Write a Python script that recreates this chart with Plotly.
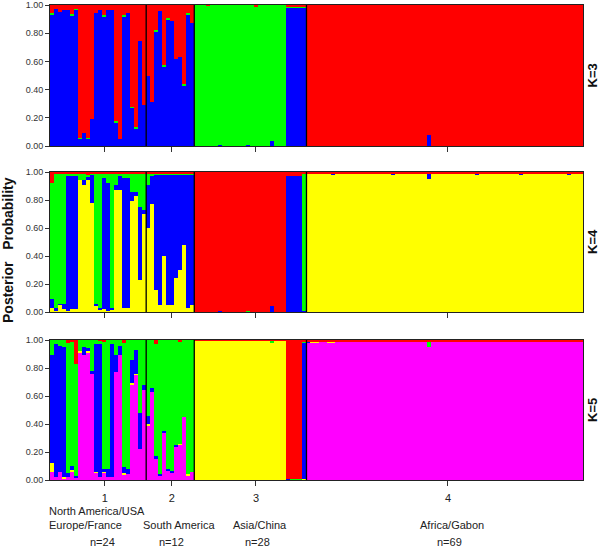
import plotly.graph_objects as go

# ---------------- data ----------------
populations = ["1", "2", "3", "4"]
pop_sizes = [24, 12, 28, 69]
regions = ["Europe/France", "South America", "Asia/China", "Africa/Gabon"]
region_top = "North America/USA"
n_labels = ["n=24", "n=12", "n=28", "n=69"]
pop_tick_pos = [13.2, 29.9, 50.9, 98.8]
boundaries = [23.5, 35.5, 63.5]
individuals = list(range(133))

# K=3  (stack bottom -> top: blue, green, red)
k3_blue = [
    .93, .97, .95, .965, .965, .925, .965, .05, .09, .05, .19, .94, .965, .92, .965, .965, .17, .05, .92, .94, .27, .125, .745, .29,
    .50, .31, .81, .955, .565, .895, .89, .62, .63, .43, .93, .875,
    0, 0, 0, 0, 0, 0, .005, 0, 0, 0, 0, 0, 0, .005, 0, 0, 0, 0, 0, .035, 0, 0, 0, .98, .98, .98, .98, .98,
    0, 0, 0, 0, 0, 0, 0, 0, 0, 0, 0, 0, 0, 0, 0, 0, 0, 0, 0, 0, 0, 0, 0,
    0, 0, 0, 0, 0, 0, 0, .075, 0, 0, 0, 0, 0, 0, 0, 0, 0, 0, 0, 0, 0, 0, 0,
    0, 0, 0, 0, 0, 0, 0, 0, 0, 0, 0, 0, 0, 0, 0, 0, 0, 0, 0, 0, 0, 0, 0,
]
k3_green = [
    .01, 0, 0, 0, 0, .01, .01, .01, 0, .01, 0, 0, 0, .01, 0, 0, .01, 0, .01, 0, .01, .01, 0, 0,
    0, 0, .01, 0, .01, .01, 0, 0, 0, .01, .01, 0,
    1, 1, 1, .995, 1, 1, .995, 1, 1, 1, 1, 1, 1, .995, 1, .99, 1, 1, 1, .965, 1, 1, 1, .01, .01, .01, .01, .01,
    0, 0, 0, 0, 0, 0, 0, 0, 0, 0, 0, 0, 0, 0, 0, 0, 0, 0, 0, 0, 0, 0, 0,
    0, 0, 0, 0, 0, 0, 0, 0, 0, 0, 0, 0, 0, 0, 0, 0, 0, 0, 0, 0, 0, 0, 0,
    0, 0, 0, 0, 0, 0, 0, 0, 0, 0, 0, 0, 0, 0, 0, 0, 0, 0, 0, 0, 0, 0, 0,
]
k3_red = [
    .06, .03, .05, .035, .035, .065, .025, .94, .91, .94, .81, .06, .035, .07, .035, .035, .82, .95, .07, .06, .72, .865, .255, .71,
    .50, .69, .18, .045, .425, .095, .11, .38, .37, .56, .06, .125,
    0, 0, 0, .005, 0, 0, 0, 0, 0, 0, 0, 0, 0, 0, 0, .01, 0, 0, 0, 0, 0, 0, 0, .01, .01, .01, .01, .01,
    1, 1, 1, 1, 1, 1, 1, 1, 1, 1, 1, 1, 1, 1, 1, 1, 1, 1, 1, 1, 1, 1, 1,
    1, 1, 1, 1, 1, 1, 1, .925, 1, 1, 1, 1, 1, 1, 1, 1, 1, 1, 1, 1, 1, 1, 1,
    1, 1, 1, 1, 1, 1, 1, 1, 1, 1, 1, 1, 1, 1, 1, 1, 1, 1, 1, 1, 1, 1, 1,
]

# K=4  (stack bottom -> top: yellow, blue, green, red)
k4_yellow = [
    .03, .01, .05, .02, .01, .02, .02, .94, .91, .94, .78, .04, .02, .02, .01, .02, .87, .87, .03, .03, .79, .83, .23, .70,
    .60, .77, .16, .05, .40, .05, .05, .245, .30, .48, .03, .05,
    0, 0, 0, 0, 0, 0, 0, 0, 0, 0, 0, 0, 0, 0, 0, 0, 0, 0, 0, 0, 0, 0, 0, 0, 0, 0, 0, 0,
    .99, .99, .99, .99, .99, .99, .98, .99, .99, .99, .99, .99, .99, .99, .99, .99, .99, .99, .99, .99, .99, .98, .99,
    .99, .99, .99, .99, .99, .99, .99, .95, .99, .99, .99, .99, .99, .99, .99, .99, .99, .99, .99, .98, .99, .99, .99,
    .99, .99, .99, .99, .99, .99, .99, .98, .99, .99, .99, .99, .99, .99, .99, .99, .99, .99, .99, .98, .99, .99, .99,
]
k4_blue = [
    .06, .02, .01, .04, .96, .95, .95, 0, .03, .03, .20, .02, .01, .94, .91, .01, .04, .10, .93, .93, .07, .03, .52, .03,
    .31, .20, .82, .93, .58, .93, .93, .735, .68, .50, .955, .935,
    0, 0, 0, 0, 0, 0, .005, 0, 0, 0, 0, 0, 0, 0, 0, 0, 0, 0, 0, .04, 0, 0, 0, .975, .975, .975, .975, .01,
    0, 0, 0, 0, 0, 0, .01, 0, 0, 0, 0, 0, 0, 0, 0, 0, 0, 0, 0, 0, 0, .01, 0,
    0, 0, 0, 0, 0, 0, 0, .04, 0, 0, 0, 0, 0, 0, 0, 0, 0, 0, 0, .01, 0, 0, 0,
    0, 0, 0, 0, 0, 0, 0, .01, 0, 0, 0, 0, 0, 0, 0, 0, 0, 0, 0, .01, 0, 0, 0,
]
k4_green = [
    .83, .96, .93, .93, .02, .02, .02, .05, .05, .01, .01, .93, .96, .03, .07, .96, .08, .02, .03, .03, .13, .13, .24, .26,
    .08, .02, .01, .01, .01, .01, .01, .01, .01, .01, .005, .005,
    0, 0, 0, 0, 0, 0, 0, 0, 0, 0, 0, 0, 0, .005, 0, 0, 0, 0, 0, 0, 0, 0, 0, 0, 0, 0, 0, .98,
    0, 0, 0, 0, 0, 0, 0, 0, 0, 0, 0, 0, 0, 0, 0, 0, 0, 0, 0, 0, 0, 0, 0,
    0, 0, 0, 0, 0, 0, 0, 0, 0, 0, 0, 0, 0, 0, 0, 0, 0, 0, 0, 0, 0, 0, 0,
    0, 0, 0, 0, 0, 0, 0, 0, 0, 0, 0, 0, 0, 0, 0, 0, 0, 0, 0, 0, 0, 0, 0,
]
k4_red = [
    .08, .01, .01, .01, .01, .01, .01, .01, .01, .02, .01, .01, .01, .01, .01, .01, .01, .01, .01, .01, .01, .01, .01, .01,
    .01, .01, .01, .01, .01, .01, .01, .01, .01, .01, .01, .01,
    1, 1, 1, 1, 1, 1, .995, 1, 1, 1, 1, 1, 1, .995, 1, 1, 1, 1, 1, .96, 1, 1, 1, .025, .025, .025, .025, .01,
    .01, .01, .01, .01, .01, .01, .01, .01, .01, .01, .01, .01, .01, .01, .01, .01, .01, .01, .01, .01, .01, .01, .01,
    .01, .01, .01, .01, .01, .01, .01, .01, .01, .01, .01, .01, .01, .01, .01, .01, .01, .01, .01, .01, .01, .01, .01,
    .01, .01, .01, .01, .01, .01, .01, .01, .01, .01, .01, .01, .01, .01, .01, .01, .01, .01, .01, .01, .01, .01, .01,
]

# K=5  (stack bottom -> top: magenta, yellow, blue, green, red)
k5_magenta = [
    .06, .02, .06, .01, .02, .06, .02, .91, .89, .91, .76, .05, .02, .05, .02, .02, .77, .89, .04, .04, .68, .75, .22, .64,
    .39, .63, .15, .03, .34, .065, .055, .24, .25, .45, .03, .06,
    0, 0, 0, 0, 0, 0, 0, 0, 0, 0, 0, 0, 0, 0, 0, 0, 0, 0, 0, 0, 0, 0, 0, 0, 0, 0, 0, 0,
    .985, .98, .98, .99, .99, .98, .98, .99, .99, .99, .99, .99, .99, .99, .99, .99, .99, .99, .99, .99, .99, .99, .99,
    .99, .99, .99, .99, .99, .99, .99, .95, .99, .99, .99, .99, .99, .99, .99, .99, .99, .99, .99, .99, .99, .99, .99,
    .99, .99, .99, .99, .99, .99, .99, .99, .99, .99, .99, .99, .99, .99, .99, .99, .99, .99, .99, .99, .99, .99, .99,
]
k5_yellow = [
    .06, 0, 0, .01, 0, .01, 0, .01, 0, .01, 0, .01, 0, .01, 0, 0, 0, 0, .01, 0, .01, .01, 0, 0,
    .01, 0, 0, 0, 0, 0, 0, 0, .01, 0, .01, 0,
    .995, .995, .995, .995, .995, .995, .995, .995, .995, .995, .995, .995, .995, .995, .995, .995, .995, .995, .995, .98, .995, .995, .995, 0, 0, 0, 0, .01,
    0, .01, .01, 0, 0, .01, .01, 0, 0, 0, 0, 0, 0, 0, 0, 0, 0, 0, 0, 0, 0, 0, 0,
    0, 0, 0, 0, 0, 0, 0, 0, 0, 0, 0, 0, 0, 0, 0, 0, 0, 0, 0, 0, 0, 0, 0,
    0, 0, 0, 0, 0, 0, 0, 0, 0, 0, 0, 0, 0, 0, 0, 0, 0, 0, 0, 0, 0, 0, 0,
]
k5_blue = [
    .77, .95, .90, .93, .03, .03, .01, 0, .06, .02, .02, .91, .955, .02, .06, .955, .12, .07, .04, .04, .17, .17, .26, .04,
    .06, .03, .02, .01, .01, .015, .01, .01, 0, 0, 0, 0,
    0, 0, 0, 0, 0, 0, 0, 0, 0, 0, 0, 0, 0, 0, 0, 0, 0, 0, 0, 0, 0, 0, 0, .01, 0, 0, 0, .97,
    .005, 0, 0, 0, 0, 0, 0, 0, 0, 0, 0, 0, 0, 0, 0, 0, 0, 0, 0, 0, 0, 0, 0,
    0, 0, 0, 0, 0, 0, 0, 0, 0, 0, 0, 0, 0, 0, 0, 0, 0, 0, 0, 0, 0, 0, 0,
    0, 0, 0, 0, 0, 0, 0, 0, 0, 0, 0, 0, 0, 0, 0, 0, 0, 0, 0, 0, 0, 0, 0,
]
k5_green = [
    .11, .03, .04, .05, .93, .89, .80, .08, .05, .06, .22, .03, .02, .91, .92, .025, .11, .04, .89, .92, .14, .07, .52, .32,
    .54, .34, .80, .96, .65, .92, .935, .75, .73, .55, .96, .94,
    0, 0, 0, 0, 0, 0, 0, 0, 0, 0, 0, 0, 0, 0, 0, 0, 0, 0, 0, .015, 0, 0, 0, 0, .01, .01, .01, .01,
    0, 0, 0, 0, 0, 0, 0, 0, 0, 0, 0, 0, 0, 0, 0, 0, 0, 0, 0, 0, 0, 0, 0,
    0, 0, 0, 0, 0, 0, 0, .04, 0, 0, 0, 0, 0, 0, 0, 0, 0, 0, 0, 0, 0, 0, 0,
    0, 0, 0, 0, 0, 0, 0, 0, 0, 0, 0, 0, 0, 0, 0, 0, 0, 0, 0, 0, 0, 0, 0,
]
k5_red = [
    0, 0, 0, 0, .02, .01, .17, 0, 0, 0, 0, 0, .005, .01, 0, 0, 0, 0, .02, 0, 0, 0, 0, 0,
    0, 0, .03, 0, 0, 0, 0, 0, .01, 0, 0, 0,
    .005, .005, .005, .005, .005, .005, .005, .005, .005, .005, .005, .005, .005, .005, .005, .005, .005, .005, .005, .005, .005, .005, .005, .99, .99, .99, .99, .01,
    .01, .01, .01, .01, .01, .01, .01, .01, .01, .01, .01, .01, .01, .01, .01, .01, .01, .01, .01, .01, .01, .01, .01,
    .01, .01, .01, .01, .01, .01, .01, .01, .01, .01, .01, .01, .01, .01, .01, .01, .01, .01, .01, .01, .01, .01, .01,
    .01, .01, .01, .01, .01, .01, .01, .01, .01, .01, .01, .01, .01, .01, .01, .01, .01, .01, .01, .01, .01, .01, .01,
]

panel_labels = ["K=3", "K=4", "K=5"]
ytick_vals = [0, 0.2, 0.4, 0.6, 0.8, 1.0]
ytick_text = ["0.00", "0.20", "0.40", "0.60", "0.80", "1.00"]

# ---------------- styles ----------------
RED, GREEN, BLUE, YELLOW, MAGENTA = "#FF0000", "#00FF00", "#0000FF", "#FFFF00", "#FF00FF"
panels = [
    [(k3_blue, BLUE), (k3_green, GREEN), (k3_red, RED)],
    [(k4_yellow, YELLOW), (k4_blue, BLUE), (k4_green, GREEN), (k4_red, RED)],
    [(k5_magenta, MAGENTA), (k5_yellow, YELLOW), (k5_blue, BLUE), (k5_green, GREEN), (k5_red, RED)],
]

W, H = 600, 548
ML, MR, MT, MB = 50, 17, 5, 68
plot_h = H - MT - MB
plot_w = W - ML - MR
def py(p):  # pixel y -> paper
    return (H - MB - p) / plot_h
def px(p):  # pixel x -> paper
    return (p - ML) / plot_w

domains = [[py(146), py(5)], [py(312), py(172)], [py(480), py(340)]]

fig = go.Figure()
for r, series in enumerate(panels):
    xa = "x" if r == 0 else f"x{r+1}"
    ya = "y" if r == 0 else f"y{r+1}"
    for vals, col in series:
        fig.add_trace(go.Bar(
            x=individuals, y=vals, marker=dict(color=col, line=dict(width=0)),
            xaxis=xa, yaxis=ya, showlegend=False, hoverinfo="skip"))

layout = dict(
    width=W, height=H, margin=dict(l=ML, r=MR, t=MT, b=MB, autoexpand=False),
    barmode="stack", bargap=0, plot_bgcolor="white", paper_bgcolor="white",
    font=dict(family="Liberation Sans, Arial, sans-serif", color="#222"),
)
for r in range(3):
    xk = "xaxis" if r == 0 else f"xaxis{r+1}"
    yk = "yaxis" if r == 0 else f"yaxis{r+1}"
    ya = "y" if r == 0 else f"y{r+1}"
    xa = "x" if r == 0 else f"x{r+1}"
    layout[xk] = dict(
        anchor=ya, range=[-0.5, 132.5], domain=[0, 1],
        tickmode="array", tickvals=pop_tick_pos,
        ticktext=populations if r == 2 else ["", "", "", ""],
        showticklabels=(r == 2), ticks="outside", ticklen=5, tickcolor="#333",
        tickfont=dict(size=11, color="#222"), ticklabelstandoff=3,
        showline=True, linecolor="#222", linewidth=1, mirror=True,
        showgrid=False, zeroline=False, fixedrange=True,
    )
    layout[yk] = dict(
        anchor=xa, domain=domains[r], range=[0, 1],
        tickmode="array", tickvals=ytick_vals, ticktext=ytick_text,
        ticks="outside", ticklen=4, tickcolor="#333",
        tickfont=dict(size=9, color="#333"),
        showline=True, linecolor="#222", linewidth=1, mirror=True,
        showgrid=False, zeroline=False, fixedrange=True,
    )
fig.update_layout(**layout)

# population boundary lines
shapes = []
for r in range(3):
    xa = "x" if r == 0 else f"x{r+1}"
    ya = "y" if r == 0 else f"y{r+1}"
    for b in boundaries:
        shapes.append(dict(type="line", xref=xa, yref=f"{ya} domain", x0=b, x1=b, y0=0, y1=1,
                           line=dict(color="black", width=1.3)))
fig.update_layout(shapes=shapes)

ann = []
for r, lab in enumerate(panel_labels):
    ann.append(dict(text=f"<b>{lab}</b>", xref="paper", yref="paper",
                    x=px(592), y=sum(domains[r]) / 2,
                    textangle=-90, showarrow=False, font=dict(size=13, color="#111"),
                    xanchor="center", yanchor="middle"))
ann.append(dict(text="<b>Posterior\u00a0\u00a0\u00a0Probability</b>", xref="paper", yref="paper",
                x=px(8), y=py(250), textangle=-90, showarrow=False,
                font=dict(size=14, color="#111"), xanchor="center", yanchor="middle"))
ann.append(dict(text=region_top, xref="paper", yref="paper", x=px(47), y=py(511),
                xanchor="left", yanchor="middle", showarrow=False, font=dict(size=11, color="#222")))
region_x = [px(47), px(179), px(259.5), px(452)]
for i, txt in enumerate(regions):
    ann.append(dict(text=txt, xref="paper", yref="paper", x=region_x[i], y=py(525),
                    xanchor="left" if i == 0 else "center", yanchor="middle",
                    showarrow=False, font=dict(size=11, color="#222")))
n_x = [px(102), px(171), px(257), px(449)]
for i, txt in enumerate(n_labels):
    ann.append(dict(text=txt, xref="paper", yref="paper", x=n_x[i], y=py(542),
                    xanchor="center", yanchor="middle", showarrow=False,
                    font=dict(size=11, color="#222")))
fig.update_layout(annotations=ann)

fig.write_html("out.html", config={"displayModeBar": False},
               post_script="document.body.style.margin='0';document.body.style.overflow='hidden';")
